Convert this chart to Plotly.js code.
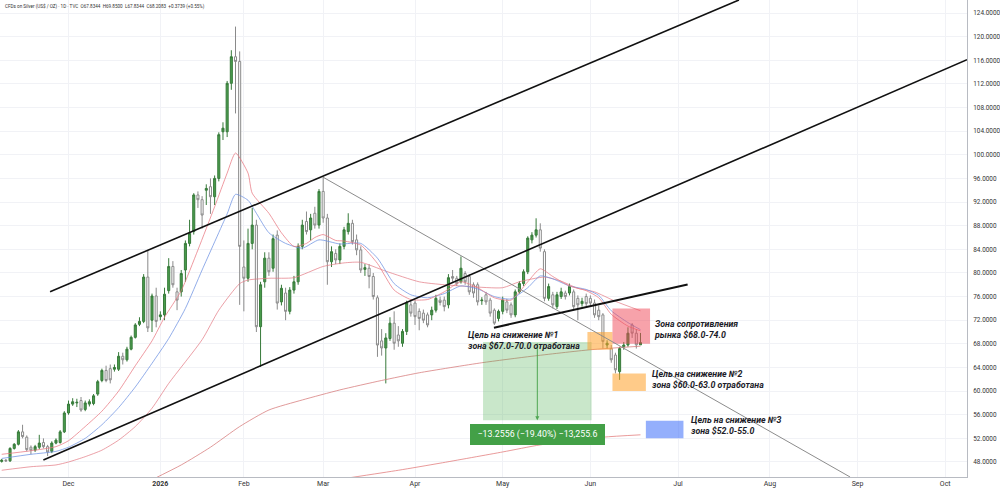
<!DOCTYPE html>
<html>
<head>
<meta charset="utf-8">
<script src="https://cdn.plot.ly/plotly-3.0.1.min.js"></script>
<style>html,body{margin:0;padding:0;background:#fff;}#chart{width:1000px;height:492px;}</style>
</head>
<body>
<div id="chart"></div>
<script>
// ---- trading days (bars) ----
const dates = [
 '2025-11-07','2025-11-10','2025-11-11','2025-11-12','2025-11-13','2025-11-14','2025-11-17','2025-11-18','2025-11-19','2025-11-20','2025-11-21','2025-11-24','2025-11-25','2025-11-26','2025-11-27','2025-11-28',
 '2025-12-01','2025-12-02','2025-12-03','2025-12-04','2025-12-05','2025-12-08','2025-12-09','2025-12-10','2025-12-11','2025-12-12','2025-12-15','2025-12-16','2025-12-17','2025-12-18','2025-12-19','2025-12-22','2025-12-23','2025-12-24','2025-12-26','2025-12-29','2025-12-30','2025-12-31',
 '2026-01-02','2026-01-05','2026-01-06','2026-01-07','2026-01-08','2026-01-09','2026-01-12','2026-01-13','2026-01-14','2026-01-15','2026-01-16','2026-01-20','2026-01-21','2026-01-22','2026-01-23','2026-01-26','2026-01-27','2026-01-28','2026-01-29','2026-01-30',
 '2026-02-02','2026-02-03','2026-02-04','2026-02-05','2026-02-06','2026-02-09','2026-02-10','2026-02-11','2026-02-12','2026-02-13','2026-02-17','2026-02-18','2026-02-19','2026-02-20','2026-02-23','2026-02-24','2026-02-25','2026-02-26','2026-02-27',
 '2026-03-02','2026-03-03','2026-03-04','2026-03-05','2026-03-06','2026-03-09','2026-03-10','2026-03-11','2026-03-12','2026-03-13','2026-03-16','2026-03-17','2026-03-18','2026-03-19','2026-03-20','2026-03-23','2026-03-24','2026-03-25','2026-03-26','2026-03-27','2026-03-30','2026-03-31',
 '2026-04-01','2026-04-02','2026-04-06','2026-04-07','2026-04-08','2026-04-09','2026-04-10','2026-04-13','2026-04-14','2026-04-15','2026-04-16','2026-04-17','2026-04-20','2026-04-21','2026-04-22','2026-04-23','2026-04-24','2026-04-27','2026-04-28','2026-04-29','2026-04-30',
 '2026-05-01','2026-05-04','2026-05-05','2026-05-06','2026-05-07','2026-05-08','2026-05-11','2026-05-12','2026-05-13','2026-05-14','2026-05-15','2026-05-18','2026-05-19','2026-05-20','2026-05-21','2026-05-22','2026-05-25','2026-05-26','2026-05-27','2026-05-28','2026-05-29',
 '2026-06-01','2026-06-02','2026-06-03','2026-06-04','2026-06-05','2026-06-08','2026-06-09','2026-06-10','2026-06-11','2026-06-12','2026-06-15','2026-06-16','2026-06-17'
];
const openP = [
 48.1,48.3,48.2,50.3,51.0,53.1,52.2,50.5,50.0,50.5,51.3,50.6,49.8,51.2,51.3,53.1,
 56.3,57.8,58.0,58.4,56.9,57.8,57.9,59.5,61.8,63.5,63.8,63.7,63.7,65.9,65.3,67.1,69.1,71.3,71.8,79.3,72.0,76.1,
 72.6,72.9,77.0,81.1,76.8,76.8,80.5,85.0,87.0,93.2,92.4,94.0,94.6,92.9,96.0,103.9,103.9,112.1,116.6,115.8,
 81.0,79.1,85.0,88.1,70.9,78.5,82.5,80.8,86.4,75.1,76.6,73.5,77.1,78.5,84.5,88.7,87.3,90.1,88.1,
 93.8,89.3,81.9,83.3,82.2,84.5,87.0,88.4,85.6,83.9,80.6,80.8,79.4,75.8,68.5,67.3,68.9,71.5,69.5,68.1,70.1,74.6,
 74.9,73.5,73.2,72.9,72.9,73.7,75.4,75.4,74.6,79.4,79.1,78.5,79.9,79.4,78.0,78.0,75.3,76.3,75.4,73.7,72.3,
 73.5,75.1,74.6,72.9,76.8,78.2,80.2,85.6,86.4,87.3,83.6,75.7,76.3,74.3,76.0,76.6,76.6,76.8,75.7,74.8,76.0,
 75.7,74.9,73.7,72.9,67.8,67.2,66.1,63.3,67.5,67.8,71.2,69.8,67.8344
];
const highP = [
 48.5,48.5,50.5,51.2,53.4,54.3,52.5,50.8,50.9,52.6,52.0,50.9,51.5,52.0,53.4,56.6,
 58.4,58.8,58.7,59.0,58.4,58.6,59.5,61.9,63.8,64.3,64.5,64.5,66.6,66.5,67.5,69.4,71.5,72.5,79.8,83.9,76.5,77.5,
 73.5,77.5,82.5,82.0,77.5,80.5,85.5,89.0,93.5,93.8,93.0,95.0,96.0,96.5,103.8,105.5,112.5,117.7,121.7,117.5,
 85.5,87.5,91.0,89.0,78.5,83.5,83.5,86.5,87.2,78.0,77.5,77.6,79.5,85.0,89.0,90.4,90.0,91.2,94.2,
 96.3,90.0,84.5,84.0,85.0,87.8,90.1,89.0,86.5,84.5,81.5,81.5,80.0,76.2,70.5,69.8,72.5,73.5,71.0,70.5,75.3,75.5,
 75.4,74.0,73.8,73.3,74.3,76.3,76.0,76.0,79.8,80.5,79.5,82.8,80.3,79.8,78.4,78.4,75.9,76.8,75.8,74.0,73.8,
 76.0,75.6,75.0,77.2,78.6,80.6,86.2,86.9,89.25,88.4,84.0,78.2,76.8,76.8,77.5,77.0,78.2,77.2,76.2,75.8,76.5,
 76.2,75.5,74.5,73.2,68.6,67.8,66.5,67.5,68.3,70.8,71.5,70.5,69.85
];
const lowP = [
 47.9,48.0,48.0,50.1,50.8,52.0,49.8,49.3,49.7,50.2,50.3,49.0,49.5,51.0,51.1,52.9,
 56.0,57.5,57.3,56.5,56.6,57.4,57.6,59.2,61.5,61.5,61.3,63.3,63.4,64.5,65.0,66.9,68.9,71.0,71.5,70.0,70.0,70.8,
 72.0,72.0,76.5,77.5,73.7,76.0,78.5,84.5,86.5,91.0,87.5,91.5,90.0,91.5,95.5,102.5,103.0,111.0,107.0,74.6,
 73.5,78.5,84.0,70.0,64.1,77.5,79.5,80.2,73.8,74.5,72.0,73.0,76.5,78.0,84.0,86.5,85.5,87.5,87.5,
 88.5,78.0,81.0,81.5,81.5,84.0,86.5,84.8,83.0,80.0,79.5,77.4,75.5,65.8,66.0,61.3,68.5,67.0,67.5,67.5,69.5,72.6,
 71.2,70.3,71.5,70.8,72.0,73.3,74.5,73.5,74.0,78.5,77.8,78.2,78.0,76.3,75.8,74.5,74.6,74.6,72.6,71.2,71.8,
 73.0,73.2,72.4,72.5,76.5,77.8,79.8,85.0,86.0,83.6,75.2,75.3,74.0,73.9,75.6,75.5,76.2,73.8,72.0,74.3,74.3,
 74.5,72.4,72.0,67.2,67.2,64.8,63.0,61.9,67.0,67.5,69.0,67.2,67.8344
];
const closeP = [
 48.3,48.2,50.3,51.0,53.1,52.3,50.1,50.0,50.6,51.2,50.6,49.7,51.2,51.7,53.1,56.3,
 57.8,58.2,58.1,56.8,58.0,58.2,59.2,61.6,63.5,61.8,61.9,64.0,65.9,65.3,67.1,69.1,71.2,71.8,79.3,70.7,76.1,71.8,
 72.9,76.4,81.1,78.0,75.4,79.9,85.0,86.7,93.2,92.4,89.8,94.3,92.9,96.0,103.4,104.5,112.1,116.6,115.8,84.5,
 79.1,85.0,88.1,70.9,78.0,82.5,80.2,85.8,74.9,77.4,73.5,77.1,78.5,84.5,88.1,87.0,89.3,88.1,93.8,
 89.3,81.9,83.6,82.2,84.5,87.3,88.4,85.3,83.9,80.5,80.9,79.4,76.0,67.8,67.3,69.0,71.5,68.1,68.5,70.1,74.9,73.2,
 72.6,72.3,72.0,71.2,73.7,75.7,75.0,74.3,79.2,79.1,78.2,80.8,78.5,76.8,76.6,75.1,75.4,75.1,73.2,71.5,73.5,
 75.4,73.7,72.9,76.8,78.2,80.2,85.9,86.4,87.3,84.2,75.7,77.7,74.6,76.3,76.8,76.0,77.7,74.3,74.6,75.2,74.8,
 74.9,72.9,72.6,68.4,68.1,65.3,63.6,67.2,67.8,69.8,69.8,67.8344,68.2083
];

// ---- moving averages (sparse points) ----
const maFastDates = ['2025-11-07','2025-11-18','2025-11-26','2025-12-01','2025-12-05','2025-12-11','2025-12-17','2025-12-23','2025-12-30','2026-01-05','2026-01-09','2026-01-15','2026-01-22','2026-01-27','2026-01-29','2026-02-03','2026-02-04','2026-02-10','2026-02-13','2026-02-19','2026-02-24','2026-02-26','2026-03-02','2026-03-05','2026-03-09','2026-03-13','2026-03-19','2026-03-25','2026-03-31','2026-04-07','2026-04-13','2026-04-17','2026-04-23','2026-04-29','2026-05-05','2026-05-11','2026-05-14','2026-05-19','2026-05-25','2026-05-29','2026-06-03','2026-06-08','2026-06-12','2026-06-17'];
const maFastValues = [49.3,49.9,50.6,51.6,54.0,56.6,60.0,64.3,68.5,72.5,77.0,83.9,91.2,96.9,100.3,96.9,93.5,90.1,86.8,84.5,85.0,86.0,86.5,85.5,85.4,84.7,81.6,77.1,75.5,75.5,76.8,78.5,77.5,75.8,75.4,78.5,80.7,79.4,77.8,77.0,75.8,73.0,71.0,70.2];
const maBlueDates = ['2025-11-07','2025-11-18','2025-11-26','2025-12-01','2025-12-05','2025-12-11','2025-12-17','2025-12-23','2025-12-30','2026-01-06','2026-01-12','2026-01-16','2026-01-27','2026-01-29','2026-02-03','2026-02-05','2026-02-10','2026-02-17','2026-02-23','2026-02-27','2026-03-06','2026-03-13','2026-03-19','2026-03-25','2026-03-31','2026-04-07','2026-04-13','2026-04-17','2026-04-23','2026-04-29','2026-05-05','2026-05-11','2026-05-14','2026-05-19','2026-05-25','2026-05-29','2026-06-03','2026-06-08','2026-06-12','2026-06-17'];
const maBlueValues = [48.6,49.3,49.8,50.5,52.0,54.3,57.2,60.7,64.7,68.9,74.0,80.5,90.0,93.3,92.3,90.1,86.8,85.0,84.2,85.6,84.9,85.0,82.5,78.2,76.3,75.8,76.5,77.8,77.3,76.0,75.6,77.5,79.5,79.0,77.8,77.2,76.2,73.6,71.6,70.4];
const maMidDates = ['2025-11-07','2025-11-18','2025-11-26','2025-12-01','2025-12-05','2025-12-11','2025-12-17','2025-12-23','2025-12-30','2026-01-06','2026-01-16','2026-01-23','2026-01-30','2026-02-03','2026-02-10','2026-02-19','2026-03-02','2026-03-09','2026-03-13','2026-03-23','2026-04-02','2026-04-13','2026-04-21','2026-05-01','2026-05-07','2026-05-15','2026-05-21','2026-05-27','2026-06-02','2026-06-09','2026-06-17'];
const maMidValues = [46.6,47.2,47.5,48.0,48.9,50.0,51.7,54.0,57.1,61.3,68.7,73.7,78.2,78.8,79.1,79.2,81.1,81.7,81.8,80.3,78.5,78.0,77.7,77.5,78.5,79.3,78.6,77.4,76.8,75.2,73.6];
const maSlowDates = ['2025-12-30','2026-01-09','2026-01-21','2026-01-30','2026-02-10','2026-02-23','2026-03-06','2026-03-20','2026-04-02','2026-04-24','2026-05-12','2026-06-01','2026-06-17'];
const maSlowValues = [45.0,47.5,50.5,54.0,56.8,58.5,60.2,61.8,63.1,64.8,65.9,67.0,67.6];
const maLongDates = ['2026-03-10','2026-03-26','2026-04-10','2026-05-01','2026-05-14','2026-06-04','2026-06-17'];
const maLongValues = [45.3,46.6,47.8,49.7,50.9,52.2,52.6];

// ---- axis ticks ----
const monthTickDates = ['2025-12-01','2026-01-02','2026-02-02','2026-03-02','2026-04-01','2026-05-01','2026-06-01','2026-07-01','2026-08-03','2026-09-01','2026-10-01'];
const monthTickText = ['Dec','<b>2026</b>','Feb','Mar','Apr','May','Jun','Jul','Aug','Sep','Oct'];
const holidays = ['2025-12-25','2026-01-01','2026-01-19','2026-02-16','2026-04-03','2026-06-19','2026-07-03','2026-09-07'];

// ---- drawings (anchor points: [date, price]) ----
const channelUpper = [['2025-11-24 14:00',76.83],['2026-07-22 14:00',126.2]];
const channelLower = [['2025-11-20 23:30',48.34],['2026-10-08 05:00',116.1]];
const necklineLine = [['2026-04-28 21:36',70.73],['2026-07-06 07:00',78.05]];
const downTrendLine = [['2026-03-02',96.2],['2026-08-28 05:00',45.46]];
const resistZone = [['2026-06-08 07:00','2026-06-22 07:00'],[68.0,74.0]];
const target1Zone = [['2026-05-29 07:00','2026-06-08 07:00'],[67.0,70.0]];
const target2Zone = [['2026-06-08 07:00','2026-06-18 07:00'],[60.0,63.0]];
const target3Zone = [['2026-06-18 07:00','2026-07-02 07:00'],[52.0,55.0]];
const measureBox = [['2026-04-24 07:00','2026-06-01 07:00'],[55.07,68.33]];
const measureMid = '2026-05-13 07:00';
const measureText = '−13.2556 (−19.40%) −13,255.6';

function lineTrace(x, y, color){
  return {type:'scatter', mode:'lines', x:x, y:y, hoverinfo:'skip', showlegend:false,
    line:{color:color, width:1, shape:'spline', smoothing:0.6}};
}

const traces = [
  lineTrace(maLongDates, maLongValues, 'rgba(226,120,120,0.75)'),
  lineTrace(maSlowDates, maSlowValues, 'rgba(214,120,120,0.75)'),
  lineTrace(maMidDates, maMidValues, 'rgba(226,120,130,0.7)'),
  lineTrace(maBlueDates, maBlueValues, 'rgba(110,145,225,0.75)'),
  lineTrace(maFastDates, maFastValues, 'rgba(232,120,130,0.75)'),
  {type:'candlestick', x:dates, open:openP, high:highP, low:lowP, close:closeP,
   increasing:{line:{color:'#377a3a', width:1}, fillcolor:'#4a9c4d'},
   decreasing:{line:{color:'#8a8a8a', width:1}, fillcolor:'#ffffff'},
   whiskerwidth:0, hoverinfo:'skip', showlegend:false}
];

function seg(p, color, width){
  return {type:'line', xref:'x', yref:'y', x0:p[0][0], y0:p[0][1], x1:p[1][0], y1:p[1][1],
    line:{color:color, width:width}, layer:'above'};
}
function box(z, fill){
  return {type:'rect', xref:'x', yref:'y', x0:z[0][0], x1:z[0][1], y0:z[1][0], y1:z[1][1],
    fillcolor:fill, line:{width:0}, layer:'above'};
}

const shapes = [
  box(measureBox, 'rgba(76,175,80,0.30)'),
  box(target1Zone, 'rgba(255,160,40,0.55)'),
  box(resistZone, 'rgba(240,70,85,0.50)'),
  box(target2Zone, 'rgba(255,160,40,0.55)'),
  box(target3Zone, 'rgba(60,110,250,0.55)'),
  seg(downTrendLine, '#8c8c8c', 1),
  seg(channelUpper, '#111111', 1.6),
  seg(channelLower, '#111111', 1.6),
  seg(necklineLine, '#111111', 2)
];

const noteFont = {family:'Roboto, "DejaVu Sans", sans-serif', size:8.8, color:'#1c1c28', style:'italic', weight:700};
function note(x, y, text){
  return {x:x, y:y, xref:'x', yref:'y', xanchor:'left', yanchor:'middle', align:'left', showarrow:false,
    text:text, font:noteFont};
}
const annotations = [
  {xref:'paper', yref:'paper', x:0.003, y:0.997, xanchor:'left', yanchor:'top', showarrow:false,
   text:'CFDs on Silver (US$ / OZ) · 1D · TVC  O67.8344  H69.8500  L67.8344  C68.2083  +0.3739 (+0.55%)',
   font:{family:'Roboto, sans-serif', size:4.6, color:'#333'}},
  {x:measureMid, y:measureBox[1][0], ax:measureMid, ay:measureBox[1][1], xref:'x', yref:'y', axref:'x', ayref:'y',
   showarrow:true, arrowhead:2, arrowsize:0.8, arrowwidth:1, arrowcolor:'rgba(67,160,71,0.9)', text:''},
  {x:measureMid, y:52.66, xref:'x', yref:'y', showarrow:false, text:measureText,
   font:{family:'Roboto, sans-serif', size:8.8, color:'#ffffff'}, bgcolor:'#43a047', bordercolor:'#43a047',
   width:129, height:15, borderpad:2},
  note('2026-04-20 05:00', 68.6, 'Цель на снижение №1<br>зона $67.0-70.0 отработана'),
  note('2026-06-22 20:00', 70.5, 'Зона сопротивления<br>рынка $68.0-74.0'),
  note('2026-06-22 08:00', 61.88, 'Цель на снижение №2<br>зона $60.0-63.0 отработана'),
  note('2026-07-06 14:00', 54.1, 'Цель на снижение №3<br>зона $52.0-55.0')
];

const layout = {
  width:1000, height:492,
  margin:{l:0, r:33, t:0, b:15, pad:0},
  paper_bgcolor:'#ffffff', plot_bgcolor:'#ffffff',
  showlegend:false, dragmode:false,
  xaxis:{type:'date', range:['2025-11-06 14:13','2026-10-08 05:00'],
    rangebreaks:[{bounds:['sat','mon']},{values:holidays}],
    rangeslider:{visible:false},
    tickmode:'array', tickvals:monthTickDates, ticktext:monthTickText,
    tickfont:{family:'Roboto, sans-serif', size:7, color:'#333'},
    ticks:'', showgrid:true, gridcolor:'#f1f2f6', gridwidth:1,
    showline:true, linecolor:'#b8bbc2', linewidth:1, mirror:false, zeroline:false, fixedrange:true},
  yaxis:{side:'right', range:[45.46,126.2], dtick:4, tick0:0, tickformat:'.4f',
    tickfont:{family:'Roboto, sans-serif', size:6.4, color:'#333'},
    ticks:'', ticklabelstandoff:4, showgrid:true, gridcolor:'#f1f2f6', gridwidth:1,
    showline:true, linecolor:'#b8bbc2', linewidth:1, zeroline:false, fixedrange:true},
  shapes:shapes,
  annotations:annotations
};

Plotly.newPlot('chart', traces, layout, {displayModeBar:false, staticPlot:true});
</script>
</body>
</html>
